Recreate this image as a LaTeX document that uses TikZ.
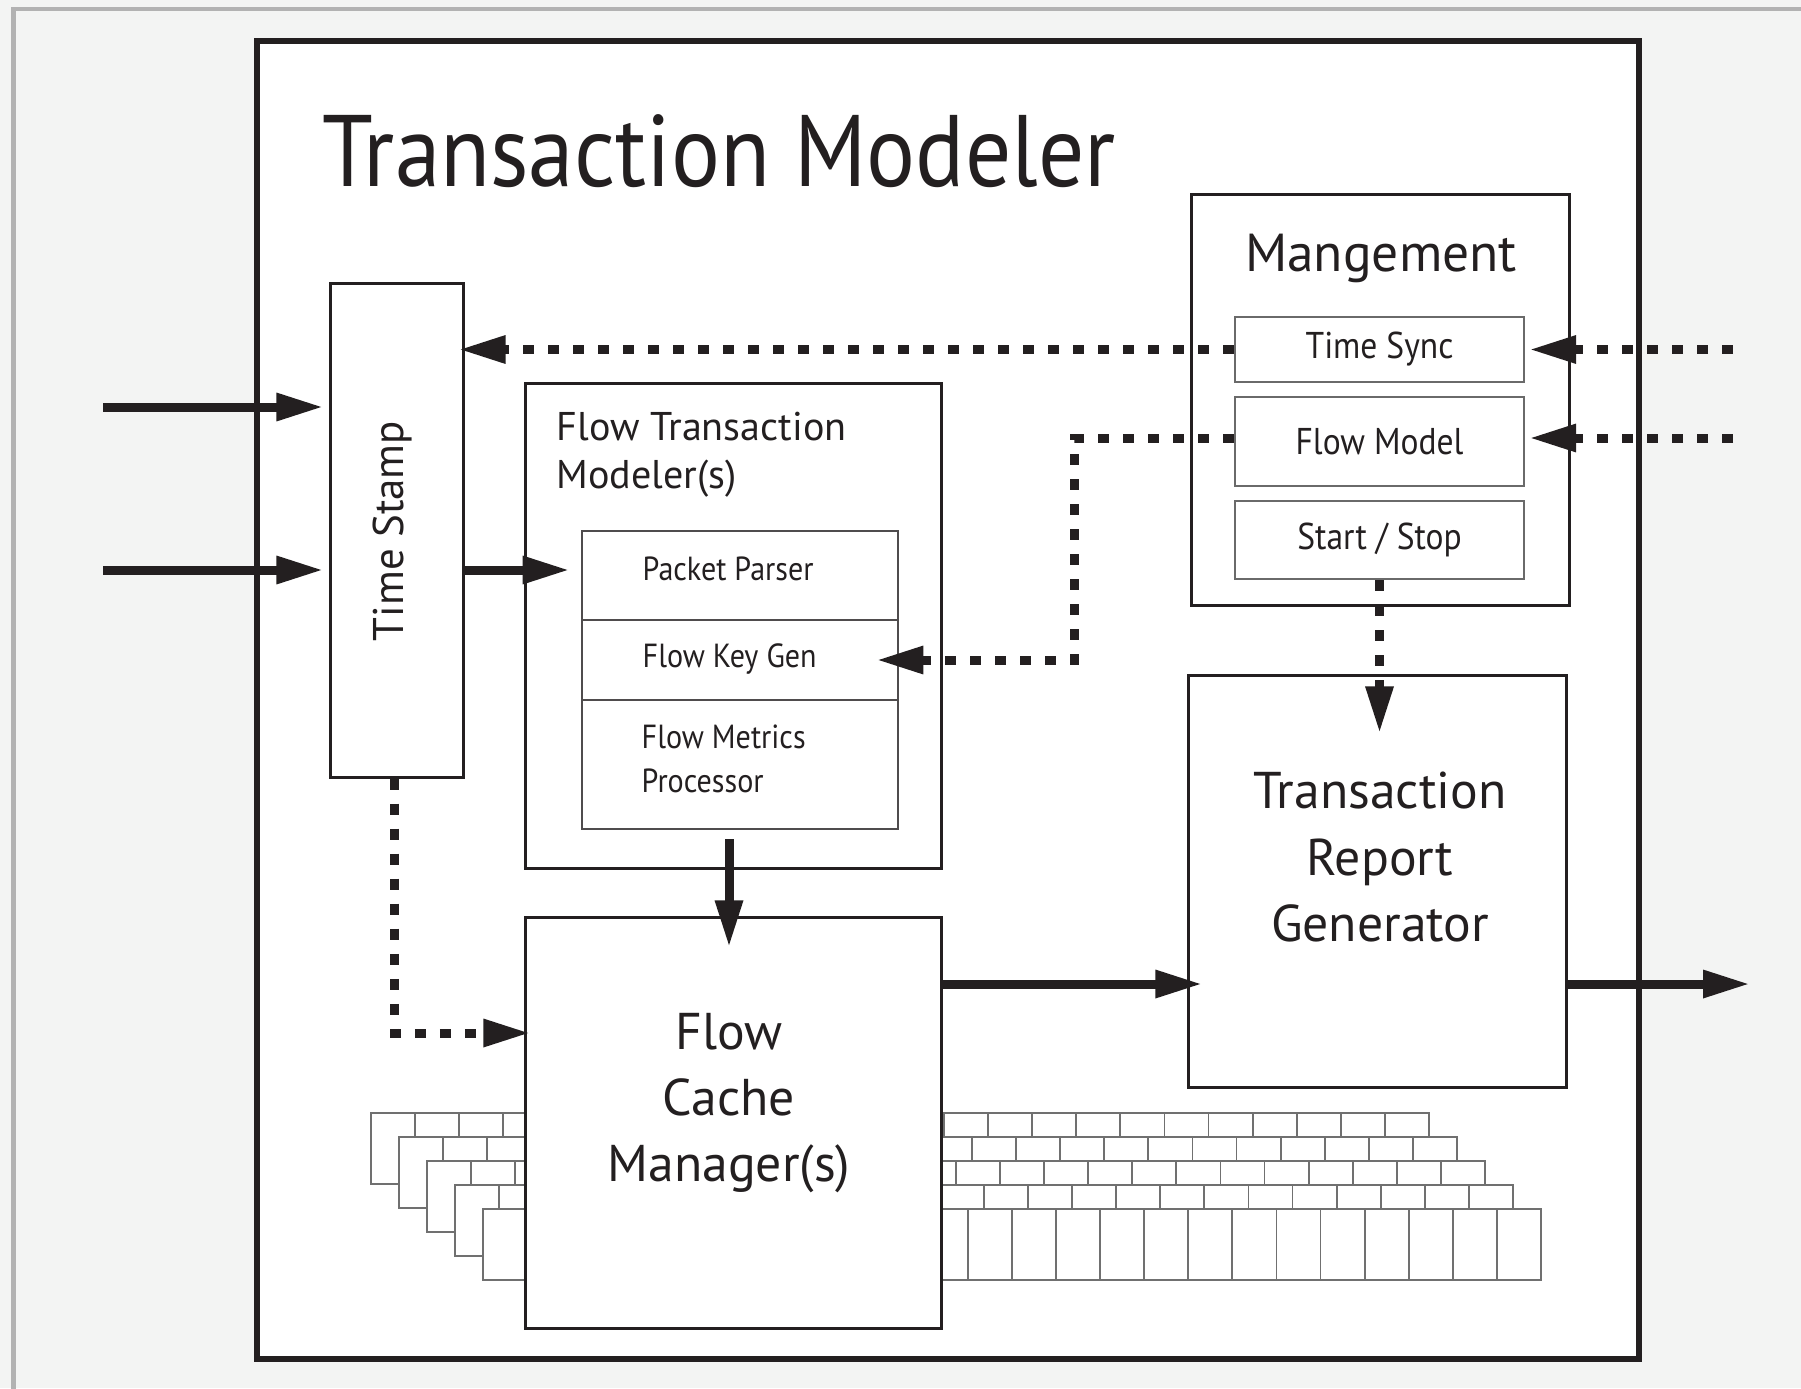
\documentclass[tikz,border=0pt]{standalone}
\usepackage{fontspec}
\setmainfont{PT Sans}
\newfontfamily\narrowfont{PT Sans}[FakeStretch=0.9]
\usetikzlibrary{arrows.meta,calc}

\definecolor{inkblack}{HTML}{231F20}
\definecolor{panelgray}{HTML}{F3F4F3}
\definecolor{framegray}{HTML}{B2B2B2}
\definecolor{cellgray}{HTML}{707070}
\definecolor{subgray}{HTML}{6A6A6A}

\tikzset{
  block/.style={draw=inkblack, line width=0.03cm, fill=white, inner sep=0pt},
  subblock/.style={draw=subgray, line width=0.02cm, fill=white, inner sep=0pt,
    minimum width=2.89cm, text=inkblack, font=\narrowfont\fontsize{10.6pt}{13pt}\selectfont},
  cell/.style={draw=inkblack!80, line width=0.025cm, fill=white, inner sep=0pt, minimum width=3.16cm},
  cellline/.style={draw=cellgray, line width=0.018cm},
  titletext/.style={inner sep=0pt, text=inkblack, font=\narrowfont\fontsize{28.9pt}{34pt}\selectfont},
  bigtext/.style={inner sep=0pt, text=inkblack, align=center, font=\fontsize{14.7pt}{18.8pt}\selectfont},
  mgmttext/.style={inner sep=0pt, text=inkblack, font=\fontsize{15.2pt}{18pt}\selectfont},
  ftmtext/.style={inner sep=0pt, text=inkblack, align=left, font=\fontsize{11.4pt}{13.6pt}\selectfont},
  celltext/.style={inner sep=0pt, text=inkblack, align=left, font=\narrowfont\fontsize{9.5pt}{12.5pt}\selectfont},
  stamptext/.style={inner sep=0pt, text=inkblack, font=\fontsize{12.2pt}{14pt}\selectfont},
  flowline/.style={draw=inkblack, line width=0.09cm, -{Triangle[length=0.47cm, width=0.26cm]}},
  ctrlline/.style={draw=inkblack, line width=0.09cm, dash pattern=on 0.11cm off 0.14cm,
    -{Triangle[length=0.47cm, width=0.26cm]}},
}

\begin{document}
\begin{tikzpicture}[x=0.01cm, y=-0.01cm]
\path[use as bounding box, clip] (0,0) rectangle (1801,1388);

% backdrop
\fill[panelgray] (0,0) rectangle (1801,1388);
\draw[framegray, line width=0.04cm] (13.5,9) rectangle (1850,1450);

% outer modeler
\node[block, line width=0.06cm, minimum width=13.82cm, minimum height=13.18cm] (modeler) at (948,700) {};
\node[titletext, anchor=base west] (title) at (322,186) {Transaction Modeler};

% flow records behind the cache
\foreach \k in {0,...,4}{
  \draw[cellline, fill=white] (371+28*\k,1113+24*\k) rectangle ++(1058,71);
  \foreach \c in {1,...,23}
    \draw[cellline] (371+28*\k+44.08*\c,1113+24*\k) -- ++(0,71);
}

% time stamp
\node[block, minimum width=1.32cm, minimum height=4.93cm] (stamp) at (397,530.5) {};
\node[stamptext, rotate=90, anchor=base] (stamplabel) at (403,531) {Time Stamp};

% flow transaction modeler
\node[block, minimum width=4.15cm, minimum height=4.84cm] (ftm) at (733.5,626) {};
\node[ftmtext, anchor=west] (ftmlabel) at (556,455) {Flow Transaction\\Modeler(s)};
\node[cell, minimum height=0.89cm] (parser) at (740,575.5) {};
\node[cell, minimum height=0.80cm] (keygen) at (740,660) {};
\node[cell, minimum height=1.29cm] (metrics) at (740,764.5) {};
\node[celltext, anchor=base west] (parserlabel) at (642,580) {Packet Parser};
\node[celltext, anchor=base west] (keygenlabel) at (642,667) {Flow Key Gen};
\node[celltext, anchor=west] (metricslabel) at (641,759) {Flow Metrics\\Processor};

% management
\node[block, minimum width=3.77cm, minimum height=4.10cm] (mgmt) at (1380.5,400) {};
\node[mgmttext, anchor=base] (mgmtlabel) at (1381,271) {Mangement};
\node[subblock, minimum height=0.65cm] (sync) at (1379.5,349.5) {Time Sync};
\node[subblock, minimum height=0.89cm] (fmodel) at (1379.5,441.5) {Flow Model};
\node[subblock, minimum height=0.78cm] (startstop) at (1379.5,540) {Start / Stop};

% report generator
\node[block, minimum width=3.77cm, minimum height=4.11cm] (report) at (1377.5,881.5) {};
\node[bigtext] (reportlabel) at (1380,857) {Transaction\\Report\\Generator};

% cache manager
\node[block, minimum width=4.15cm, minimum height=4.10cm] (cache) at (733.5,1123) {};
\node[bigtext] (cachelabel) at (729,1103) {Flow\\Cache\\Manager(s)};

% loose ends
\coordinate (inA) at (103,407);
\coordinate (inB) at (103,570);
\coordinate (outR) at (1750,984);
\coordinate (extA) at (1733,349.5);
\coordinate (extB) at (1733,438);

% data path
\draw[flowline, shorten >=0.06cm] (inA) -- (inA -| stamp.west);
\draw[flowline, shorten >=0.06cm] (inB) -- (inB -| stamp.west);
\draw[flowline, shorten >=0.11cm] (stamp.east |- inB) -- (parser.west |- inB);
\draw[flowline] ($(metrics.south)+(-11,9)$) -- ($(cache.north)+(-4.5,31)$);
\draw[flowline] (cache.east |- outR) -- ($(report.west |- outR)+(15,0)$);
\draw[flowline] (report.east |- outR) -- (outR);

% control path
\draw[ctrlline] (sync.west) -- ($(stamp.east |- sync.west)+(-6,0)$);
\draw[ctrlline] (extA) -- ($(sync.east)+(4,0)$);
\draw[ctrlline] (extB) -- ($(fmodel.east |- extB)+(4,0)$);
\draw[ctrlline] (fmodel.west |- extB) -- ++(-159,0) |- ($(keygen.east)+(-23,0)$);
\draw[ctrlline] (startstop.south) -- ($(startstop.south |- report.north)+(0,59)$);
\draw[ctrlline] ($(stamp.south)+(-3,0)$) |- ($(cache.west)+(6,-90)$);

\end{tikzpicture}
\end{document}
